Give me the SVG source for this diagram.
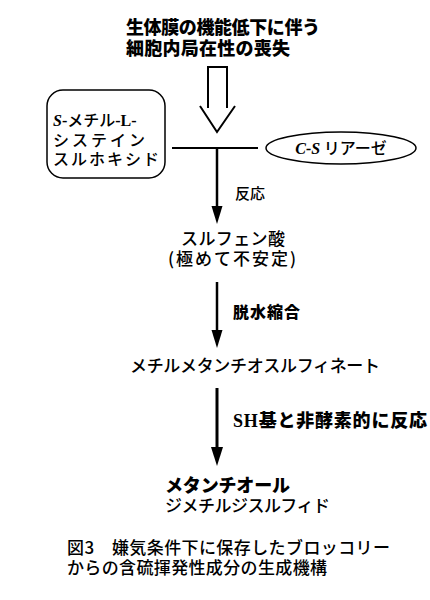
<svg xmlns="http://www.w3.org/2000/svg" width="430" height="600" viewBox="0 0 430 600">
<style>
text{font-family:"Noto Sans CJK JP","Noto Sans CJK SC",sans-serif;fill:#000}
.b{font-weight:900}
.m{font-weight:500}
.ser{font-family:"Liberation Serif",serif;font-weight:bold}
.it{font-style:italic}
.ln{stroke:#000;fill:none}
.box{fill:#fff;stroke:#000;stroke-width:1.5}
</style>
<rect width="430" height="600" fill="#fff"/>
<g id="title">
<text class="b" x="126" y="34" font-size="18" textLength="194">生体膜の機能低下に伴う</text>
<text class="b" x="126" y="55" font-size="18" textLength="164">細胞内局在性の喪失</text>
</g>
<g id="connectors">
<path class="ln" stroke-width="2" d="M208,108 V67 H227 V108 M200,106 L217,132 L235,106"/>
<line class="ln" stroke-width="2" x1="172" y1="148" x2="258" y2="148"/>
<line class="ln" stroke-width="2.5" x1="217" y1="148" x2="217" y2="210"/>
<polygon points="211.5,206 222.5,206 217,224" fill="#000"/>
<line class="ln" stroke-width="2.5" x1="217" y1="282" x2="217" y2="334"/>
<polygon points="211.5,330 222.5,330 217,348" fill="#000"/>
<line class="ln" stroke-width="3" x1="217" y1="388" x2="217" y2="452"/>
<polygon points="211,447 223,447 217,466" fill="#000"/>
</g>
<g id="substrate">
<rect class="box" x="47" y="90" width="118" height="88" rx="16" ry="16"/>
<text x="53" y="126" font-size="16" class="m"><tspan class="ser it">S</tspan><tspan class="ser">-</tspan>メチル<tspan class="ser">-L-</tspan></text>
<text x="53" y="146" font-size="16" class="m" textLength="92">システイン</text>
<text x="53" y="165" font-size="16" class="m" textLength="106">スルホキシド</text>
</g>
<g id="enzyme">
<ellipse class="box" cx="341" cy="148" rx="75" ry="16"/>
<text x="341" y="154" font-size="16" text-anchor="middle" class="m"><tspan class="ser it" font-weight="normal">C-S</tspan> リアーゼ</text>
</g>
<g id="label-reaction">
<text x="235" y="199" font-size="15" class="m">反応</text>
</g>
<g id="sulfenic">
<text x="233" y="245" font-size="17" text-anchor="middle" class="m" textLength="104">スルフェン酸</text>
<text x="232" y="265" font-size="17" text-anchor="middle" class="m" textLength="128">(極めて不安定)</text>
</g>
<g id="label-dehydration">
<text x="233" y="318" font-size="16" class="b" textLength="67">脱水縮合</text>
</g>
<g id="mmts">
<text x="130" y="372" font-size="17" class="m" textLength="250">メチルメタンチオスルフィネート</text>
</g>
<g id="label-sh">
<text x="233" y="427" font-size="18" class="b" textLength="194"><tspan class="ser">SH</tspan>基と非酵素的に反応</text>
</g>
<g id="products">
<text x="165" y="492" font-size="18" class="b" textLength="125">メタンチオール</text>
<text x="165" y="512" font-size="17" class="m" textLength="165">ジメチルジスルフィド</text>
</g>
<g id="caption">
<text x="67" y="554" font-size="17" class="m" textLength="323">図3　嫌気条件下に保存したブロッコリー</text>
<text x="67" y="574" font-size="17" class="m" textLength="260">からの含硫揮発性成分の生成機構</text>
</g>
</svg>
